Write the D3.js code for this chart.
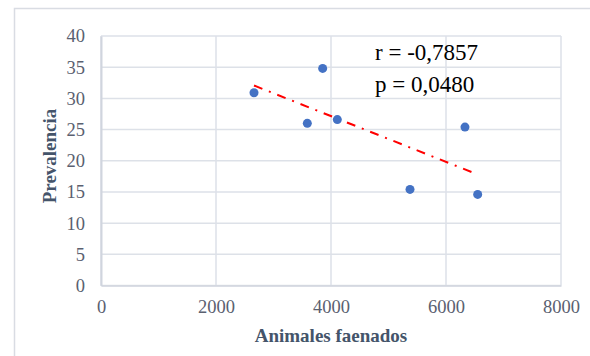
<!DOCTYPE html>
<html><head><meta charset="utf-8">
<script src="https://cdn.jsdelivr.net/npm/d3@7"></script>
<style>body{margin:0;background:#fff}svg{display:block}</style>
</head><body>
<svg id="c" width="590" height="356"></svg>
<script>
const animales = [2661, 3855, 3588, 4110, 5374, 6330, 6551];
const prevalencia = [30.9, 34.8, 26.0, 26.6, 15.4, 25.4, 14.6];
const xTicks = [0, 2000, 4000, 6000, 8000];
const yTicks = [0, 5, 10, 15, 20, 25, 30, 35, 40];
const statLines = ["r = -0,7857", "p = 0,0480"];
const xTitle = "Animales faenados";
const yTitle = "Prevalencia";

const svg = d3.select("#c");
const L = 101, R = 561, T = 36, B = 285.5;
const x = d3.scaleLinear().domain([0, 8000]).range([L, R]);
const y = d3.scaleLinear().domain([0, 40]).range([B, T]);
const serif = "'Liberation Serif','Times New Roman',serif";

// outer border
svg.append("rect").attr("x", 14.5).attr("y", 8.5).attr("width", 600).attr("height", 400)
  .attr("fill", "none").attr("stroke", "#d9dce3").attr("stroke-width", 1.5);

// grid
const grid = svg.append("g");
grid.selectAll("line.h").data(yTicks).join("line")
  .attr("x1", L).attr("x2", R).attr("y1", d => y(d)).attr("y2", d => y(d))
  .attr("stroke", "#dde1e8").attr("stroke-width", 1.5);
grid.selectAll("line.v").data(xTicks).join("line")
  .attr("y1", T).attr("y2", B).attr("x1", d => x(d)).attr("x2", d => x(d))
  .attr("stroke", "#dde1e8").attr("stroke-width", 1.5);

// axes labels via d3 axes
const ya = svg.append("g").attr("transform", `translate(${L},0)`)
  .call(d3.axisLeft(y).tickValues(yTicks).tickFormat(d3.format("d")).tickSize(0).tickPadding(16));
ya.select(".domain").attr("stroke", "#d0d5de").attr("stroke-width", 2);
ya.selectAll("text").attr("font-family", serif).attr("font-size", 18.5).attr("fill", "#5a6070");

const xa = svg.append("g").attr("transform", `translate(0,${B})`)
  .call(d3.axisBottom(x).tickValues(xTicks).tickFormat(d3.format("d")).tickSize(0).tickPadding(14));
xa.select(".domain").attr("stroke", "#d0d5de").attr("stroke-width", 1.5);
xa.selectAll("text").attr("font-family", serif).attr("font-size", 18.5).attr("fill", "#5a6070");

// trendline (least squares)
const n = animales.length;
const mx = d3.mean(animales), my = d3.mean(prevalencia);
let sxy = 0, sxx = 0;
for (let i = 0; i < n; i++) { sxy += (animales[i]-mx)*(prevalencia[i]-my); sxx += (animales[i]-mx)**2; }
const slope = sxy / sxx, icpt = my - slope * mx;
const x0 = d3.min(animales), x1 = d3.max(animales);
svg.append("line")
  .attr("x1", x(x0)).attr("y1", y(icpt + slope * x0))
  .attr("x2", x(x1)).attr("y2", y(icpt + slope * x1))
  .attr("stroke", "#ff0000").attr("stroke-width", 2)
  .attr("stroke-dasharray", "9,7,2,7");

// points
svg.selectAll("circle.pt").data(animales).join("circle")
  .attr("cx", d => x(d)).attr("cy", (d, i) => y(prevalencia[i]))
  .attr("r", 4.5).attr("fill", "#4472c4");

// stats text
svg.selectAll("text.stat").data(statLines).join("text")
  .attr("x", 375).attr("y", (d, i) => 60 + i * 31.5)
  .attr("font-family", serif).attr("font-size", 23).attr("fill", "#000")
  .text(d => d);

// axis titles
svg.append("text").attr("x", 331).attr("y", 342).attr("text-anchor", "middle")
  .attr("font-family", serif).attr("font-size", 19).attr("font-weight", "bold")
  .attr("fill", "#44546a").text(xTitle);
svg.append("text").attr("transform", "translate(56,156) rotate(-90)").attr("text-anchor", "middle")
  .attr("font-family", serif).attr("font-size", 19).attr("font-weight", "bold")
  .attr("fill", "#44546a").text(yTitle);
</script>
</body></html>
